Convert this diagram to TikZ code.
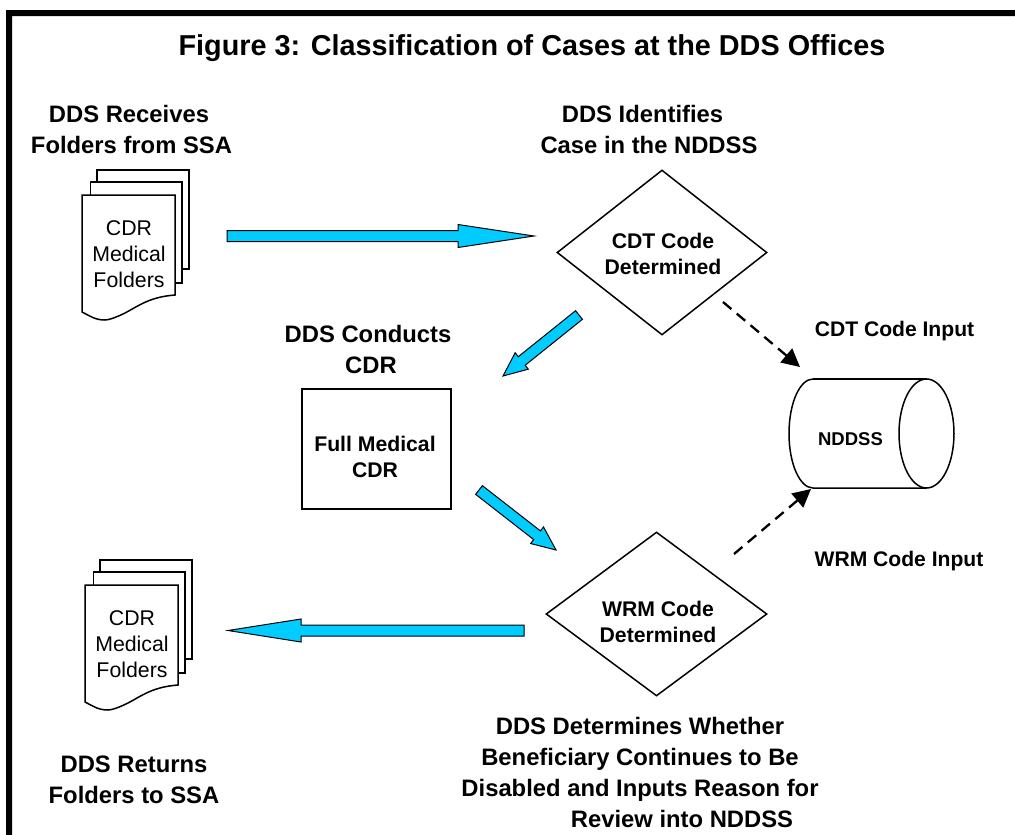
\documentclass[tikz,border=0pt]{standalone}
\usepackage{fontspec}
\setmainfont{Liberation Sans}
\usetikzlibrary{calc,shapes.geometric,arrows.meta}
\definecolor{arrowblue}{HTML}{00CCFF}
\tikzset{
  x=1pt,y=-1pt,
  outline/.style={draw=black,line width=1.5pt,line join=miter},
  head/.style={font=\bfseries\fontsize{23.8}{31}\selectfont,align=center,inner sep=0pt,text=black},
  small head/.style={font=\bfseries\fontsize{21.1}{26}\selectfont,inner sep=0pt,text=black},
  title/.style={font=\bfseries\fontsize{28.8}{34}\selectfont,inner sep=0pt},
  foldertext/.style={font=\fontsize{21.3}{26}\selectfont,align=center,inner sep=0pt},
  boxtext/.style={font=\bfseries\fontsize{21.2}{26.5}\selectfont,align=center,inner sep=0pt},
  decision/.style={shape=diamond,outline,fill=white,inner sep=0pt,minimum width=#1},
  procbox/.style={shape=rectangle,outline,fill=white,inner sep=0pt,minimum width=149pt,minimum height=120pt},
  blockline/.style={draw=black,line width=1pt,fill=arrowblue,line join=miter},
  dashedlink/.style={draw=black,line width=2.3pt,dash pattern=on 11pt off 7pt,-{Triangle[length=18pt,width=18pt]}},
  folders/.pic={
    \path[outline,fill=white] (15,-25) rectangle (107,74);
    \path[outline,fill=white] (8.5,-13) rectangle (100,88);
    \path[outline,fill=white] (0,0) -- (93,0) -- (93,100)
      .. controls (68,102) and (58,110) .. (43,118)
      .. controls (33,123) and (26,125) .. (23,125)
      .. controls (13,125) and (8,121) .. (0,117) -- cycle;
  }
}
\newcommand{\blockarrow}[4]{%
  \coordinate (bb) at ($(#2)!#3pt!(#1)$);
  \draw[blockline] ($(#1)!5.5pt!90:(#2)$) -- ($(bb)!5.5pt!-90:(#1)$) -- ($(bb)!#4pt!-90:(#1)$)
    -- (#2) -- ($(bb)!#4pt!90:(#1)$) -- ($(bb)!5.5pt!90:(#1)$) -- ($(#1)!5.5pt!-90:(#2)$) -- cycle;
}
\begin{document}
\begin{tikzpicture}
\useasboundingbox (0,0) rectangle (1015,835);
\fill[white] (0,0) rectangle (1015,835);
% frame
\fill[black] (6,835) -- (6,10) -- (1015,10) -- (1015,16) -- (12,16) -- (12,835) -- cycle;

\node[title] (ttl) at (532,48) {Figure 3: Classification of Cases at the DDS Offices};

\node[head] (h1) at (131.5,129.5) {DDS Receives\hspace*{5pt}\\Folders from SSA};
\node[head] (h2) at (649,129.5) {DDS Identifies\hspace*{13pt}\\Case in the NDDSS};
\node[head] (h3) at (368,349) {DDS Conducts\\\hspace*{6pt}CDR};
\node[small head] (h4) at (894.5,331) {CDT Code Input};
\node[small head] (h5) at (899,561) {WRM Code Input};
\node[head] (h6) at (640,772) {DDS Determines Whether\\Beneficiary Continues to Be\\Disabled and Inputs Reason for\\\hspace*{84pt}Review into NDDSS};
\node[head] (h7) at (134,780) {DDS Returns\\Folders to SSA};

% folders
\pic (fa) at (82,195) {folders};
\pic (fb) at (85,585) {folders};
\node[foldertext] (fat) at (129,254) {CDR\\Medical\\Folders};
\node[foldertext] (fbt) at (132,644) {CDR\\Medical\\Folders};

% shapes
\node[decision=210pt,minimum height=165pt] (d1) at (662,252.5) {};
\node[boxtext] (d1t) at (663,254) {CDT Code\\Determined};
\node[decision=221pt,minimum height=164pt] (d2) at (656.5,614) {};
\node[boxtext] (d2t) at (658,622) {WRM Code\\Determined};
\node[procbox] (pb) at (376.5,449) {};
\node[boxtext] (pbt) at (375,457) {Full Medical\\CDR};

% cylinder
\draw[outline] (813,379) arc[start angle=90,end angle=270,x radius=24pt,y radius=54.5pt] -- (926.5,488);
\draw[outline] (813,379) -- (926.5,379);
\draw[outline] (926.5,433.5) ellipse[x radius=27.5pt,y radius=54.5pt];
\node[font=\bfseries\fontsize{18.5}{22}\selectfont,inner sep=0pt] (db) at (850.5,439) {NDDSS};

% block arrows
\coordinate (a1s) at (227,236);   \coordinate (a1e) at (534,236);
\coordinate (a2s) at (579,315);   \coordinate (a2e) at (503,376);
\coordinate (a3s) at (479,490);   \coordinate (a3e) at (556,550);
\coordinate (a4s) at (524,630.5); \coordinate (a4e) at (228,630.5);
\blockarrow{a1s}{a1e}{76}{11.5}
\blockarrow{a2s}{a2e}{24}{10.5}
\blockarrow{a3s}{a3e}{24}{10.5}
\blockarrow{a4s}{a4e}{73}{11.5}

% dashed links
\coordinate (l1s) at (723,302); \coordinate (l1e) at (800,367);
\coordinate (l2s) at (734,554); \coordinate (l2e) at (811,489);
\draw[dashedlink] (l1s) -- (l1e);
\draw[dashedlink] (l2s) -- (l2e);
\end{tikzpicture}
\end{document}
